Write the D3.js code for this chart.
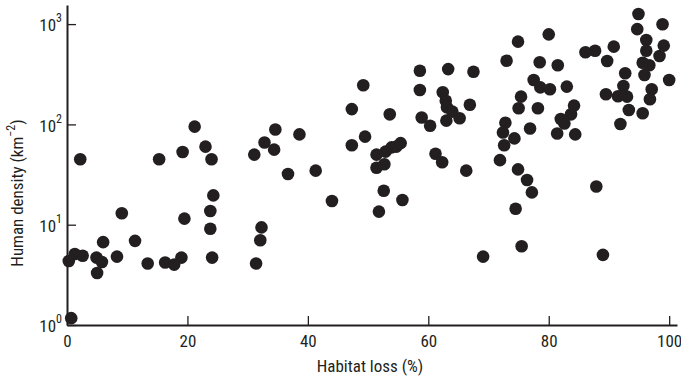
<!DOCTYPE html>
<html><head><meta charset="utf-8">
<script src="https://cdn.jsdelivr.net/npm/d3@7"></script>
<style>
body{margin:0;background:#fff;}
text{font-family:"Liberation Sans Narrow","Roboto Condensed",Lato,sans-serif;fill:#231f20;}
</style></head>
<body><svg id="c" width="681" height="378"></svg>
<script>
const habitatLoss = [0.3,1.3,2.6,2.2,0.7,4.9,5.8,5.0,6.0,8.3,9.1,11.3,13.4,15.3,16.3,17.8,19.0,19.2,19.5,21.2,23.0,24.0,24.3,23.8,23.8,24.1,31.1,32.8,34.6,34.4,32.3,32.1,31.4,38.6,36.7,41.3,44.0,47.3,49.2,47.3,49.5,53.6,51.4,52.9,53.9,54.7,55.4,51.4,52.7,52.6,55.7,51.8,58.6,58.6,58.9,60.3,63.3,62.4,62.9,63.1,64.0,63.0,65.2,67.5,66.9,61.2,62.3,66.3,69.1,74.9,80.0,73.0,78.5,81.5,75.4,75.0,77.5,78.6,80.2,83.0,78.2,84.2,83.7,82.0,82.6,81.4,84.4,76.9,72.8,72.4,74.3,72.6,71.9,74.9,76.4,77.2,74.5,75.5,87.9,89.0,86.1,87.7,90.8,89.7,94.9,98.9,94.7,96.2,96.2,99.1,98.4,95.6,96.7,95.9,92.7,92.4,89.5,91.5,93.0,93.3,95.6,91.9,97.1,96.8,100.0];
const humanDensity = [4.35,5.1,4.9,45,1.17,4.7,4.25,3.3,6.7,4.8,13,6.9,4.1,45,4.2,4.0,4.7,53,11.5,95,60,45,19.6,13.7,9.1,4.7,50,66,89,56,9.4,7.0,4.1,79.5,32,34.6,17.2,142,246,62,75.5,126,50,53.5,59,60,65,37,40,21.8,17.6,13.5,343,220,117,97,356,209,172,148,134,109,115,335,157,51,42,34.6,4.8,668,790,431,416,389,189,145,277,234,224,238,145,154,126,113,102,81,79.5,91,104,83,72.5,62,44,35.6,27.9,21,14.4,6.1,24,5.0,524,543,596,428,1260,995,890,693,543,610,480,412,389,311,324,241,200,191,189,139,129,101,224,178,277];
const xTicks = [0,20,40,60,80,100];
const yTicks = [1,10,100,1000];
const yExp = ["0","1","2","3"];
const xDomain = [0,101.3];
const yDomain = [1,1550];

const svg = d3.select("#c");
const ink = "#231f20";
const x = d3.scaleLinear().domain(xDomain).range([67,677]);
const y = d3.scaleLog().domain(yDomain).range([325,5]);

// points
svg.append("g").selectAll("circle").data(habitatLoss.map((h,i)=>[h,humanDensity[i]]))
  .join("circle").attr("cx",d=>x(d[0])).attr("cy",d=>y(d[1])).attr("r",6.3).attr("fill",ink);

// x axis
const gx = svg.append("g").attr("transform",`translate(0,${y(1)})`)
  .call(d3.axisBottom(x).tickValues(xTicks).tickSizeInner(-9).tickSizeOuter(0).tickPadding(10).tickFormat(d3.format("d")));
gx.select(".domain").attr("stroke",ink).attr("stroke-width",2);
gx.selectAll(".tick line").attr("stroke",ink).attr("stroke-width",1.3);
gx.selectAll("text").attr("font-size",17).attr("fill",ink).style("font-family",null);

// y axis
const gy = svg.append("g").attr("transform",`translate(${x(0)},0)`)
  .call(d3.axisLeft(y).tickValues(yTicks).tickSizeInner(-9).tickSizeOuter(0).tickPadding(5));
gy.select(".domain").attr("stroke",ink).attr("stroke-width",2);
gy.selectAll(".tick line").attr("stroke",ink).attr("stroke-width",1.3);
gy.selectAll(".tick text").each(function(d,i){
  const t = d3.select(this).text("").attr("font-size",17).attr("fill",ink).attr("dy","0.4em");
  t.append("tspan").text("10");
  t.append("tspan").attr("font-size",12).attr("dy","-0.75em").text(yExp[i]);
});
svg.selectAll(".tick text").style("font-family",null);
svg.selectAll("g").attr("font-family",null);

// labels
svg.append("text").attr("x",370).attr("y",372).attr("text-anchor","middle").attr("font-size",17).text("Habitat loss (%)");
const yl = svg.append("text").attr("transform","translate(23,193) rotate(-90)").attr("text-anchor","middle").attr("font-size",17);
yl.append("tspan").text("Human density (km");
yl.append("tspan").attr("font-size",12).attr("dy","-0.7em").text("\u22122");
yl.append("tspan").attr("dy","0.5em").text(")");
</script></body></html>
